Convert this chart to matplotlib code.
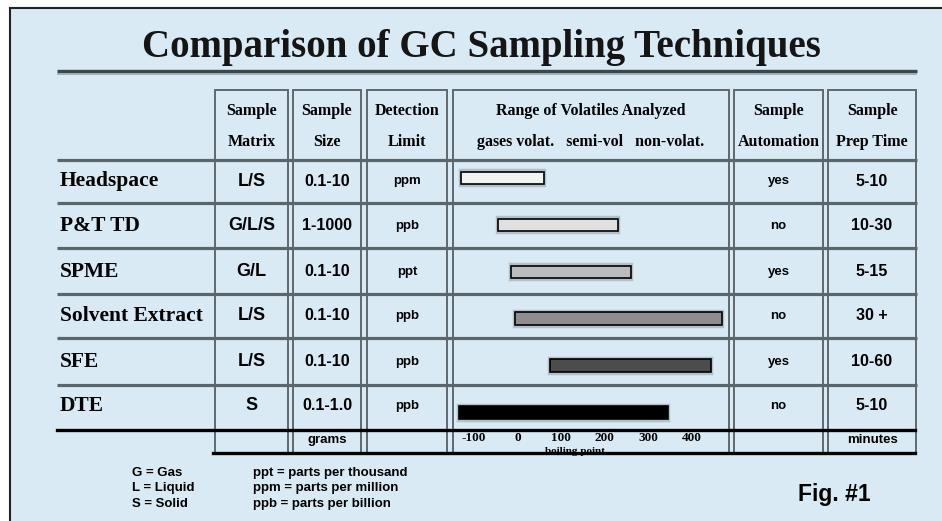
import matplotlib
matplotlib.use("Agg")
import matplotlib.pyplot as plt
import matplotlib.transforms as mtransforms
from matplotlib.patches import Rectangle

# ---- table data ----
title = "Comparison of GC Sampling Techniques"
techniques = ["Headspace", "P&T TD", "SPME", "Solvent Extract", "SFE", "DTE"]
sample_matrix = ["L/S", "G/L/S", "G/L", "L/S", "L/S", "S"]
sample_size = ["0.1-10", "1-1000", "0.1-10", "0.1-10", "0.1-10", "0.1-1.0"]
detection_limit = ["ppm", "ppb", "ppt", "ppb", "ppb", "ppb"]
automation = ["yes", "no", "yes", "no", "yes", "no"]
prep_time = ["5-10", "10-30", "5-15", "30 +", "10-60", "5-10"]

# boiling point range (deg C) covered by each technique
bp_low = [-130, -45, -15, -5, 75, -135]
bp_high = [60, 230, 260, 470, 445, 345]
bar_colors = ["#f2f2f2", "#e0e0e0", "#bcbcbc", "#8e8e8e", "#4c4c4c", "#000000"]
bp_ticks = [-100, 0, 100, 200, 300, 400]

headers = [("Sample", "Matrix"), ("Sample", "Size"), ("Detection", "Limit"),
           ("Range of Volatiles Analyzed", "gases volat.   semi-vol   non-volat."),
           ("Sample", "Automation"), ("Sample", "Prep Time")]
units_row = ["", "grams", "", "", "", "minutes"]

legend_matrix = ["G = Gas", "L = Liquid", "S = Solid"]
legend_units = ["ppt = parts per thousand", "ppm = parts per million",
                "ppb = parts per billion"]

# ---- layout (pixels, y down) ----
W, H = 942, 521
BG = "#d9eaf4"
SERIF = "Liberation Serif"
SANS = "Liberation Sans"
col_edges = [(215, 288), (293, 361), (367, 447), (453, 729), (734, 823), (828, 916)]
header_top = 90
row_lines = [160, 203, 248, 294, 338, 385]
row_y = [181, 226, 272, 316, 362, 406]
table_bottom = 430
units_bottom = 453
bp_xlim = (-148.6, 486.4)

fig = plt.figure(figsize=(W / 100, H / 100), dpi=100)
fig.patch.set_facecolor("white")
ax = fig.add_axes([0, 0, 1, 1])
ax.set_xlim(0, W)
ax.set_ylim(H, 0)
ax.axis("off")

# background panel with border on top and left
ax.add_patch(Rectangle((10, 8), W - 10, H - 8, facecolor=BG, edgecolor="none", zorder=0))
ax.plot([10, 10], [8, H], color="#222222", lw=1.5, zorder=1)
ax.plot([10, W], [8, 8], color="#222222", lw=1.5, zorder=1)

# title + underline
ax.text(481, 56.5, title, family=SERIF, weight="bold", fontsize=28,
        ha="center", va="baseline", color="#151515")
ax.plot([57, 917], [71, 71], color="#3a474d", lw=2.4, solid_capstyle="butt")
ax.plot([57, 917], [73.5, 73.5], color="#9aa7ad", lw=1.2, solid_capstyle="butt")

# column boxes
for l, r in col_edges:
    ax.add_patch(Rectangle((l, header_top), r - l, units_bottom - header_top,
                           fill=False, edgecolor="#5f686d", lw=1.4, zorder=2))

# row separators
for y in row_lines:
    ax.plot([57, 917], [y, y], color="#5a666c", lw=2.3, zorder=2, solid_capstyle="butt")
ax.plot([57, 915], [table_bottom, table_bottom], color="black", lw=2.4, zorder=4)
ax.plot([213, 915], [units_bottom, units_bottom], color="black", lw=2.4, zorder=4)

# header text
centers = [(l + r) / 2 for l, r in col_edges]
for cx, (top, bottom) in zip(centers, headers):
    ax.text(cx, 111, top, family=SERIF, weight="bold", fontsize=11.5,
            ha="center", va="center")
    ax.text(cx, 142, bottom, family=SERIF, weight="bold", fontsize=11.5,
            ha="center", va="center")

# row labels
for y, name in zip(row_y, techniques):
    ax.text(60, y, name, family=SERIF, weight="bold", fontsize=15.5,
            ha="left", va="center")

# cell text
cell_cols = [(0, sample_matrix, 13), (1, sample_size, 11.5), (2, detection_limit, 9.5),
             (4, automation, 9.5), (5, prep_time, 11.5)]
for ci, values, fs in cell_cols:
    for y, v in zip(row_y, values):
        ax.text(centers[ci], y, v, family=SANS, weight="bold", fontsize=fs,
                ha="center", va="center")

# units row
for cx, u in zip(centers, units_row):
    if u:
        ax.text(cx, 440, u, family=SANS, weight="bold", fontsize=9.5,
                ha="center", va="center")

# boiling point range bars
bl, bb = col_edges[3][0] / W, 1 - 436 / H
bax = fig.add_axes([bl, bb, (col_edges[3][1] - col_edges[3][0]) / W, 281.4 / H])
bax.set_xlim(*bp_xlim)
bax.set_ylim(len(techniques) - 0.5, -0.5)
bax.axis("off")
bax.patch.set_alpha(0)
idx = list(range(len(techniques)))
widths = [h - l for l, h in zip(bp_low, bp_high)]
bax.barh(idx, widths, left=bp_low, height=0.3, color="none",
         edgecolor="#8d989d", lw=3.2, alpha=0.5, zorder=1)
bax.barh(idx, widths, left=bp_low, height=0.27, color=bar_colors,
         edgecolor="black", lw=1.2, zorder=2)

# boiling point tick labels, x from bar axis, y in page pixels
trans = mtransforms.blended_transform_factory(bax.transData, ax.transData)
for t in bp_ticks:
    ax.text(t, 438, str(t), transform=trans, family=SERIF, weight="bold",
            fontsize=9.5, ha="center", va="center")
ax.text(575, 451, "boiling point", family=SERIF, weight="bold", fontsize=8,
        ha="center", va="center", zorder=3)

# legend
for i, (a, b) in enumerate(zip(legend_matrix, legend_units)):
    y = 473 + 15.5 * i
    ax.text(132, y, a, family=SANS, weight="bold", fontsize=9.5, ha="left", va="center")
    ax.text(253, y, b, family=SANS, weight="bold", fontsize=9.5, ha="left", va="center")

ax.text(798, 495, "Fig. #1", family=SANS, weight="bold", fontsize=16.5,
        ha="left", va="center")

fig.savefig("out.png", dpi=100, facecolor=fig.get_facecolor())
